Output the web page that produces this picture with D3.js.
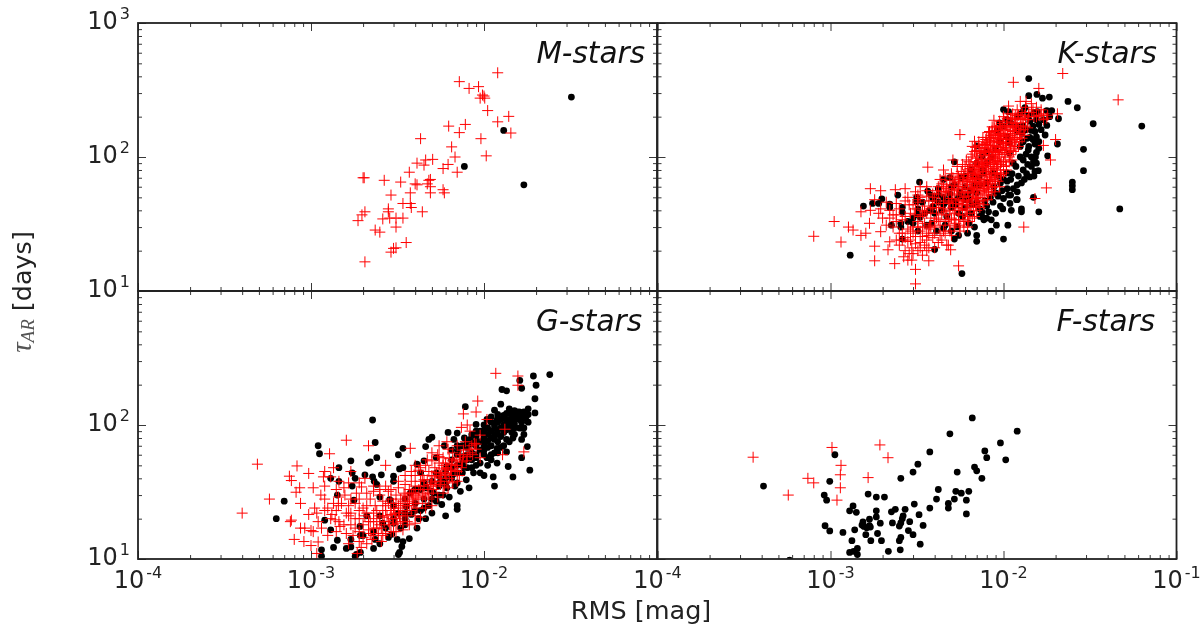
<!DOCTYPE html>
<html>
<head>
<meta charset="utf-8">
<script src="https://cdn.jsdelivr.net/npm/d3@7"></script>
<style>
  html, body { margin: 0; padding: 0; background: #fff; }
  svg { display: block; filter: blur(0.45px); }
</style>
</head>
<body>
<div id="chart"></div>
<script>
// every pair is [RMS in mmag, tau_AR in days]
const mBlack = [[7.7,85],[13,158],[17,62],[32,280]];
const mRed = [[12,425],[7.2,365],[8.2,325],[9.3,335],[9.8,290],[9.5,275],[10.1,275],[10,285],[10.5,222],[13.9,201],[12,183],[14.3,151],[7.8,175],[6.25,170],[7.2,152],[4.3,137],[9.6,137],[6.5,119],[6.8,100],[10.3,102],[4.1,90],[4.6,95],[5.05,96],[4.5,87],[6.2,88],[5.8,82],[7,77],[3.7,77],[2,70],[2.03,70],[2.65,67],[3.3,65],[4,63],[4.1,62],[4.8,67],[4.9,68],[4.7,63],[4.9,60],[4.9,54],[5.8,57],[5.9,54],[3.75,54],[2.9,52],[3.4,45],[3.75,45],[3.8,42],[4.4,39],[2.8,41],[2.8,39],[2.05,39],[1.97,37],[1.87,33.5],[2.6,34.5],[2.85,35],[3.1,35],[3.4,35],[3.1,30],[2.35,28.5],[2.5,27.5],[3.55,23],[3.1,21],[3,20.8],[2.9,19.5],[2.05,16.5]];

const kBlack = [[14,385],[23.6,260],[26.7,233],[33,177],[63,170],[29,114],[29,79],[25,65],[25,61],[25,57],[47,41],[20.5,125],[18,102],[15.6,293],[16.8,275],[18.4,280],[14,287],[10,226],[17.8,222],[19,222],[20.8,193],[15.7,218],[9.5,180],[13.3,233],[17.4,146],[17.8,172],[15.5,190],[14.2,185],[15.2,155],[15.5,141],[13.9,113],[16,116],[15.5,108],[14.9,92],[15.5,90],[15.9,79],[15.2,78],[14.2,71],[13.6,75],[12.7,64],[12,62],[11.4,58],[10.7,52],[10,49],[9.3,51],[8.7,46],[8,43],[7.3,41],[11.9,48],[14.9,50],[10.9,45],[11.1,40],[12.7,41],[12.7,39],[16,39],[9.9,41],[9,38],[8.5,34],[7.7,34],[7.3,36],[9.1,31],[10.6,31],[8.5,28],[10,24.4],[7,26],[7,23.5],[5.2,24.4],[4,20.4],[5.75,13.5],[1.3,18.5],[1.55,43],[1.75,45],[1.9,45],[1.98,48.6],[2.2,44.5],[2.2,42],[2.45,52],[2.6,38.7],[3.27,65],[3.65,55.6],[3.15,50],[3.15,46.5],[2.25,31],[2.55,32],[2.55,30],[3,35],[3,32],[3.3,35.5],[2.6,24.4],[3.85,32],[4.5,68],[4.9,70],[5.2,92],[4.2,58],[3.9,49],[3.9,42.5],[4.4,40],[3.75,40],[4.5,50],[4.9,48],[5.3,44],[4.9,53],[5.6,55],[4.5,29.4],[5.4,30.2],[6.3,32],[7,54],[7.3,62],[7,121],[9.2,159],[10.5,142],[10.8,127],[12,155],[12.5,120],[10.8,107],[11.4,90],[10.5,76],[9.6,64],[8.7,76],[8,64],[7.7,76],[6.7,73],[6,60],[5.7,70],[5.2,62],[13,95],[13.7,138],[13,170],[14.5,158],[10.7,218],[12,200],[14.8,135],[6.5,38],[7.5,39],[6,42],[5.8,36],[9.6,43],[8.2,39],
  [12,170],[12.8,150],[13.5,160],[14.2,140],[14.8,170],[15.2,125],[14,120],[13.5,105],[13,130],[12.5,100],[11.8,85],[13,80],[14.5,100],[13.8,88],[12.2,72],[11.2,75],[10.5,66],[9.8,56],[9,54],[8.4,50],[7.8,47],[7,46],[6.6,44],[6.3,48],[11,68],[12,55],[13.2,68],[14.5,85],[15.3,100],[15,72],[16,130],[16.5,160],[16,175],[14,205],[15,215],[12.5,210],[11,180],[10,170],[10.5,190],[13,220],[17,190],[18.5,200],
  [4.5,44],[5,42],[5.3,47],[5.8,50],[6.2,52],[4.2,46],[4,38],[4.7,36],[5.5,38],[3.5,38],[3.2,41],
  [4.2,52],[4.6,46],[5,60],[5.5,50],[6,48],[6.4,56],[6.8,62],[7.2,70],[7.6,80],[8,90],[8.5,100],[9,115],[9.5,130],[8,110],[7.5,100],[7,90],[6.5,80],[6,72],[3.4,46],[3.8,52],[3.2,28],[3.6,31],[4.1,28],[4.6,31],[5,28],[2.8,33],[3.2,37],[2.6,42],[8.8,60],[9.4,72],[10,68],[10.5,58],[11,52],[12,48],[7.5,36],[6.8,30],[6.2,27],[5.5,26],[8,35]];
const kRed = [[22,420],[11.4,361],[16,325],[46,267],[5.6,147],[3.65,84],[1.7,58],[1.95,56],[2.37,57],[2.7,58],[3.1,55],[1.05,33],[0.8,25.6],[1.27,30],[1.35,28.5],[1.15,23.2],[1.5,26],[1.6,27],[1.68,32],[1.95,27.7],[1.8,21.6],[1.8,16.8],[2.35,16],[3.1,14.5],[3.1,11.3],[3.7,16.8],[5.5,15.4],[4.95,20.3],[2.15,20.3],[2.2,23.3],[2.8,17],[2.65,18],[2.85,19],[2.95,17],[2.95,21],[3.3,21],[3.7,21],[4.7,22],[2.6,27],[2.8,23.4],[3.1,25.5],[3.4,30],[3.75,31],[2.2,35],[2.3,37],[1.5,39],[1.7,40],[1.95,41],[2.85,44],[3.05,37],[3.4,37],[17.7,58.8],[15.2,49],[13.1,30],[18.7,95],[20,135],[17,122],[20.5,210],[17.8,195],[17,210],[12.5,260],[10.7,240],[8.8,188],[8.3,155],[6.8,131],[6.6,120],[4.5,80],[5.1,95],[6,85],
  [3,30],[3.2,33],[2.9,38],[3.4,40],[3.3,28],[3.6,27],[3.8,35],[3.5,43],[3.7,47],[3.2,52],[2.7,47],
  [4,30],[4.2,34],[4.1,38],[3.9,42],[4.3,45],[4,50],[4.4,55],[4.2,60],[4.5,28],[4.6,33],[4.7,37],[4.5,41],[4.8,46],[4.6,52],[4.4,63],[4.7,58],[4.9,67],[4.3,26],[4.9,31],
  [5,35],[5.2,38],[5.1,42],[5.3,45],[5,49],[5.2,53],[5.4,57],[5.1,61],[5.3,66],[5.5,72],[5,75],[5.6,40],[5.5,34],[5.8,37],[5.7,44],[5.6,48],[5.9,50],[5.7,55],[5.8,60],[5.6,64],[5.9,70],[5.7,78],[5.4,85],[5.2,30],[5.9,30],
  [6,41],[6.2,44],[6.1,47],[6.3,51],[6,54],[6.2,58],[6.4,62],[6.1,66],[6.3,70],[6.5,75],[6.2,80],[6.4,88],[6.1,95],[6.6,48],[6.7,54],[6.5,57],[6.8,60],[6.6,65],[6.9,69],[6.7,73],[6.8,80],[6.6,85],[6.9,92],[6.5,100],[6.8,110],[6.4,38],[6.7,42],
  [7,50],[7.2,53],[7.1,58],[7.3,62],[7,65],[7.2,68],[7.4,72],[7.1,77],[7.3,81],[7.5,86],[7.2,90],[7.4,96],[7.1,102],[7.3,110],[7.5,118],[7.6,56],[7.7,60],[7.5,64],[7.8,68],[7.6,74],[7.9,78],[7.7,83],[7.8,90],[7.6,95],[7.9,102],[7.7,108],[7.8,116],[7.6,125],[7.9,135],[7.2,45],[7.6,47],
  [8,55],[8.2,60],[8.1,66],[8.3,70],[8,74],[8.2,80],[8.4,85],[8.1,91],[8.3,97],[8.5,103],[8.2,110],[8.4,117],[8.1,125],[8.3,132],[8.5,145],[8.6,63],[8.7,68],[8.5,76],[8.8,82],[8.6,88],[8.9,94],[8.7,100],[8.8,108],[8.6,114],[8.9,122],[8.7,130],[8.8,140],[8.6,155],[8.9,165],
  [9,70],[9.2,76],[9.1,84],[9.3,90],[9,97],[9.2,104],[9.4,112],[9.1,120],[9.3,128],[9.5,136],[9.2,146],[9.4,158],[9.1,170],[9.6,80],[9.7,92],[9.5,100],[9.8,108],[9.6,118],[9.9,126],[9.7,135],[9.8,150],[9.6,165],[9.9,178],[9.5,60],
  [10,85],[10.3,95],[10.1,105],[10.4,115],[10,125],[10.3,135],[10.5,148],[10.2,160],[10.4,172],[10.1,185],[10.5,195],[10.8,100],[11,112],[10.9,122],[11.2,132],[11,145],[11.3,155],[10.9,168],[11.2,180],[11,195],[11.3,210],[11.6,120],[11.8,135],[11.6,150],[11.9,165],[11.7,178],[12,190],[11.7,205],[12,225],[12.4,150],[12.6,170],[12.5,195],[12.8,215],[13,180],[13.2,205],[13.4,235],[13.8,190],[14,215],[14.5,250],[15,200],[15.5,235],[16,205],[16.5,225],[17,190],[18,205],[14.8,225],[13.5,260],
  [2.3,30],[2.5,27],[2.7,25],[2.9,24],[3.1,22.5],[3.3,23],[3.6,24],[3.9,25],[4.2,23],[2.6,34],[2.9,28],[2.4,37],[2.2,40],[1.9,38],[3.4,25.5],[3.7,26],[4,27],[3.5,22],
  [3.3,36],[3.6,38],[4.1,35],[4.4,37],[4.8,34],[5.2,34],[5.5,37],[6,34],[6.3,33],[6.8,36],
  [3.1,41],[3.5,39],[3.8,41],[4.2,42],[4.6,39],[4.9,40],[5.3,42],[5.8,41],[6.1,40],[6.5,44],[6.9,43],[7.1,47],
  [3.2,46],[3.9,47],[4.1,45],[4.5,47],[4.9,45],[5.1,47],[5.5,45],[5.8,47],[6.3,46],[6.6,51],[6.9,49],[7.4,50],[7.8,52],[8.2,54],
  [3.6,56],[4.2,53],[4.6,55],[5,56],[5.4,52],[5.9,54],[6.2,55],[6.6,59],[7,56],[7.4,58],[7.8,58],[8.2,57],[8.6,59],[9,60],
  [4.7,62],[5.2,64],[5.5,60],[6,62],[6.4,66],[6.8,64],[7.3,66],[7.7,64],[8.1,62],[8.4,66],[8.9,66],[9.3,66],[9.7,72],
  [5.4,75],[5.9,74],[6.3,76],[6.9,75],[7.2,74],[7.6,78],[8,78],[8.5,72],[8.9,75],[9.2,80],[9.6,74],[10,76],[10.4,80],
  [5.8,88],[6.3,92],[6.8,86],[7.2,85],[7.6,88],[8,88],[8.4,92],[8.8,90],[9.2,93],[9.6,88],[10,92],[10.4,86],[10.8,92],[11.2,95],
  [6.6,105],[7,112],[7.4,106],[7.9,112],[8.2,104],[8.6,108],[9,110],[9.4,105],[9.8,114],[10.2,112],[10.6,108],[11,104],[11.4,110],[11.8,115],[12.2,120],
  [7.2,130],[7.6,140],[8,128],[8.4,138],[8.8,132],[9.2,138],[9.6,130],[10,142],[10.4,128],[10.8,138],[11.2,128],[11.6,135],[12,140],[12.4,130],[12.8,138],[13.2,145],
  [8.2,152],[8.6,168],[9,158],[9.4,150],[9.8,168],[10.2,150],[10.6,165],[11,158],[11.4,168],[11.8,172],[12.2,160],[12.6,150],[13,160],[13.4,170],[13.8,165],
  [9.5,185],[10,200],[10.6,210],[11.2,190],[11.6,195],[12.2,205],[12.8,195],[13.4,190],[14,200],[14.5,215],[15.5,200],[16.5,205],
  [3.2,20],[3.6,20],[4.4,24],[5,26],[5.6,28],[6.2,30],[4,21],[4.8,22],[2.5,22],[2.7,20],[3,19],[3.4,18.5],
  [2.4,24],[2.6,24],[2.8,29],[3,27],[3.2,30],[3.5,32],[3.7,29],[4,33],[4.3,31],[4.6,27],[4.9,28],[5.3,32],[5.6,31],[5.9,33],[6.2,36],[6.6,35],[7,40],[7.3,42],[7.7,44],[8.1,48],[8.5,52],[8.9,55],[3.3,50],[3.6,51],[3.9,53],[4.1,56],[4.5,60],[4.8,54],[5.2,58],[5.5,68],[5.1,70],[4.6,72],[4.3,68],[5.8,66],[6.2,68],[6.6,70],[7,84],[6.4,82],[7.5,92],[7,98],[6.9,118],[7.2,122],[7.8,124],[8.4,122],[9,148],[8,140],[9.6,145],[10.3,118],[11,125],[11.5,140],[3.8,30],[2.4,33],[2.1,31],[2,35],[2.7,36],[2.5,41],[3,44],[3.2,48],[2.8,50],[2.4,45],[2.1,46],[1.8,48],[3.6,60],[3.3,60]];

const gBlack = [[24,238],[19.3,232],[20,198],[16.1,215],[16.5,188],[13.5,180],[12.7,184],[19.7,157],[7.8,137],[12.5,143],[11.5,129],[14,132],[15,128],[19.7,123],[18,132],[16.5,118],[14.8,115],[13.5,106],[11.9,108],[10.4,110],[9,101],[12.9,95],[11.5,95],[10,91],[15,95],[16.5,95],[14.7,80],[16.5,78],[17.8,69],[16.5,57],[13.5,63],[11.9,67],[10,69],[10.4,57],[9,57],[11.9,52],[13.8,49],[18.4,46],[14.7,41],[11.3,41],[11.5,35],[10,42],[8.7,44],[7.9,39],[8.2,34],[7.3,32],[7,37],[7.6,49],[7.1,64],[7.7,80],[8.3,78],[7,87],[6.2,88],[5,81],[4.8,78],[6.7,78],[5.9,70],[4.6,69],[3.4,67],[3.2,60],[4.5,54],[5.3,57],[6.1,49],[4.1,51],[3.4,48],[3.25,47],[4.3,44],[5.3,44],[5.6,38],[6.6,42.5],[6.3,29],[5.3,27],[5.7,25.5],[7,25],[7,23.5],[6,21],[5,22],[4.6,20],[5.1,31],[2.27,109],[2.35,74],[1.1,70],[1.12,61],[1.7,54],[2.2,53],[2.15,52],[2.4,57],[1.45,48],[1.73,44],[1.8,40],[1.3,40],[1.45,38],[1.73,35],[2.05,42.5],[2.27,41],[2.32,38],[2.55,42.5],[3,41.5],[2.4,36],[3,38],[1.42,30],[1.77,27.5],[0.7,27],[0.63,20],[1.2,19.5],[1.3,16.5],[1.42,13.8],[1.35,12.2],[1.15,11.7],[1.15,10.5],[1.6,12],[1.7,14],[1.7,12.3],[1.93,15],[1.83,10.8],[1.8,10.5],[1.93,11.2],[2.35,14],[2.5,13],[2.3,12],[2.93,15.3],[3.15,14],[3.4,13.5],[3.7,14.2],[3.35,12.4],[3.25,11.2],[3.2,10.8],[4.1,17],[3.5,18],[3.8,21.5],[4.3,23],[3.55,24.6],[2.5,29],[2.85,27.7],[3,18.5],[2.6,18.5],[2.1,21],[1.92,17.5],[3.75,31],[4.65,34],[4.3,33],[6.1,34],
  [9,70],[9.5,75],[10,80],[10.5,85],[11,90],[11.5,100],[12,105],[12.5,110],[13,118],[13.5,122],[14,125],[14.5,120],[15,110],[15.5,118],[16,125],[16.5,105],[17,112],[12,75],[12.5,82],[13,88],[13.5,92],[14,98],[14.5,88],[15,102],[11,70],[11.5,78],[12,92],[13,70],[13.5,78],[10,60],[10.5,68],[11,60],[9,60],[9.5,52],[8.5,62],[8,55],[8,68],[7.5,58],[7,50],[7,60],[6.5,48],[6.5,55],[6,45],[6,40],[5.5,35],[5.5,42],[5,32],[5,38],[4.5,28],[4.5,37],[4,26],[4,33],[3.5,22],[3.5,28],[3,20],[3,25],[2.7,17],[2.5,21],[2.3,16],[2.8,14.5],[2,15],[8.5,48],[9.5,44],[10.5,50],[7.5,44],[6.8,35],[5.8,30],[4.8,25],[4.2,20],[3.3,17],[9,82],[8.5,72],[10,100],[11,115],[12,120],
  [7.5,52],[8,60],[8.5,55],[9,75],[9.5,65],[10,72],[10.5,76],[11,80],[11.5,85],[12,85],[12.5,95],[13,100],[13.5,110],[14,110],[14.5,105],[15,120],[15.5,125],[16,110],[16.5,120],[17,125],[17.5,115],[11,105],[12,112],[10.5,95],[9.5,90],[9,90],[10,85],[8.5,85],[8,75],[7.5,70],[7,70],[6.5,65],[10,65],[11,55],[12,62],[12.5,68],[11.5,62],[9,50],[8,48],[7,44],[6.5,40],[6,36],[5.5,30],[5,28],[4.5,24],[4,23],[3.5,20],[3.2,22],[14,75],[15,85],[16,95],[17,95],[17,85],[18,120],[18,105]];
const gRed = [[11.7,243],[15.7,232],[15.7,198],[9.2,151],[7.6,121],[9,125],[10.4,110],[13.2,93],[8,100],[7.4,96],[8.3,90],[9.5,84],[8.8,73],[12.8,60],[17,63],[6.1,75],[5.5,70],[3.75,67],[2.15,70],[1.6,77],[1.28,61],[2.7,50],[0.49,51],[0.83,49.5],[0.97,43.5],[0.75,41.5],[0.77,38.5],[0.86,34],[0.82,31.5],[1.03,34],[1.2,35],[1.18,41],[1.3,41],[1.35,48],[1.45,38],[1.7,45],[1.14,30],[0.87,26],[0.575,28],[0.4,22],[0.76,19],[0.77,19.5],[0.87,17],[0.92,17],[1,16.3],[1.03,16],[0.8,14],[0.91,13.5],[1,12.6],[1.1,13.4],[1.08,11],[1.05,24],[0.97,21.5],[1.08,22],[1.32,21.5],[1.38,19.6],[1.47,17.5],[1.57,30],[1.44,29],[1.44,25],[1.65,25],[1.96,34.5],[1.83,31],[2.3,32],[1.65,13],[1.9,13.5],[1.95,12.2],[1.85,11],
  [1.2,28],[1.25,24],[1.3,20],[1.4,23],[1.45,19],[1.5,26],[1.55,18],[1.6,15.5],[1.65,21],[1.7,28],[1.75,15],[1.8,26],
  [1.6,22],[1.7,18],[1.8,20],[1.9,16],[1.9,23],[2,18],[2,14.5],[2.05,21],[2.1,25],[2.15,16.5],[2.2,19],[2.2,28],[2.25,14],[2.3,22],[2.3,17],[2.35,25],[2.4,19],[2.45,15.5],[2.5,21],[2.5,30],[2.55,17],[2.6,23],[2.6,27],[2.65,19],[2.7,15.5],[2.7,25],[2.75,21],[2.8,32],[2.85,18],[2.9,23],[2.9,28],[2.95,20],[3,16],[3,26],[3.05,22],[3.1,30],[3.15,18.5],[3.2,25],[3.2,34],[3.25,21],[3.3,28],[3.4,23],[3.4,19],[3.45,31],[3.5,26],[3.5,36],[3.6,22],[3.6,29],[3.7,33],[3.7,25],[3.8,38],[3.85,28],[3.9,31],[4,26],[4,35],[4,42],[4.1,29],[4.2,33],[4.2,46],[4.3,38],[4.4,31],[4.4,42],[4.5,35],[4.6,50],[4.6,29],[4.7,39],[4.8,33],[4.8,45],[4.9,36],[5,42],[5,54],[5.1,33],[5.2,38],[5.2,48],[5.3,44],[5.4,60],[5.5,38],[5.5,52],[5.6,42],[5.7,47],[5.8,57],[5.9,35],[5.9,44],[6,52],[6.1,38],[6.2,66],[6.2,47],[6.3,56],[6.5,42],[6.5,51],[6.6,62],[6.8,46],[6.9,55],[7,70],[7,50],[7.2,42],[7.3,60],[7.5,53],[7.6,65],[7.8,75],[8,58],[8.3,62],[8.5,70],[9,66],[9.5,57],
  [2.3,20],[2.4,23],[2.5,18],[2.6,20.5],[2.7,23],[2.8,19],[2.8,26],[2.9,21.5],[3,24],[3,18],[3.1,20],[3.1,26],[3.2,22],[3.3,19],[3.3,24],[3.4,27],[3.5,21],[3.5,30],[3.6,25],[3.6,19],[3.7,27],[3.8,23],[3.8,31],[3.9,26],[4,21],[4,30],[4.1,24],[4.2,28],[4.3,35],[4.4,26],[4.5,30],[4.5,39],[4.7,33],[4.8,28],[5,31],[5,37],[5.2,41],[5.3,35],[5.5,44],[5.6,36],[5.7,40],[5.8,50],[6,43],[6.1,48],[6.3,40],[6.4,46],[6.6,54],[6.8,50],[7,45],[7.2,57],[7.4,48],[7.6,60],[7.9,54],[8.2,66],[8.6,60],[9,72],[2.1,22],[2.15,19],[2.3,15],[2.6,15],[2,24],[1.9,20],[1.8,17],[1.7,22],
  [1.9,28],[2.1,31],[2.3,35],[2.5,33],[2.7,35],[2.9,33],[3.2,38],[3.5,42],[3.8,45],[4,50],[4.3,48],[4.7,55],[5,62],[5.5,58],[3.1,16],[3.4,16.5],[3.7,18],[4,18.5],[4.3,20.5],[4.6,24],[5,25],[5.4,29],[5.8,31],[6.2,34],[6.6,37],[7,38],[2.4,17],[2.2,15.5],[2.9,16],[2.55,13.5],[2.1,13],[1.4,16],[1.25,15],[1.15,17],[1.1,19],[1.2,23],[1.35,26],[1.55,34],[1.65,37],[1.9,37],[2.05,40],[1.2,45],[1.4,33]];

const fBlack = [[6.6,113],[4.9,86],[12,90],[9.6,73.5],[7.8,64],[8,57],[10.3,55],[3.75,63],[3.2,51],[3,44.5],[2.55,40],[1.06,60],[0.99,38],[0.41,35],[0.92,30],[0.95,27.5],[1.65,30.5],[1.84,29],[2.05,29],[5.4,44.5],[6.8,48.5],[7,45.5],[7.5,40],[4.2,33],[5.3,32],[5.7,31],[6.3,32],[4.1,28],[5.2,28],[6.1,27.5],[4.8,26],[4.8,24],[3.75,24],[6.1,21.7],[3.05,25.7],[2.7,23.5],[2.37,23.5],[2.25,22.5],[3.25,21.4],[2.63,21],[2.6,20],[2.87,19],[2.55,18.6],[2.28,18.6],[3.43,17.8],[2.5,17.6],[2.82,16.3],[3,15.2],[2.55,14.5],[2.5,13.7],[3.3,12.9],[2.53,11.7],[2.16,11.4],[1.97,13.7],[1.87,15.5],[1.71,13.7],[1.6,15.2],[1.33,13.7],[1.18,15.8],[0.99,16.2],[0.93,17.7],[1.38,16.5],[1.29,22.9],[1.35,24.9],[1.41,22.3],[1.84,22.9],[1.84,20.6],[1.68,19.8],[1.54,18.9],[1.52,17.9],[1.94,18.5],[1.7,17.3],[1.62,17.1],[1.29,11.2],[1.36,11.4],[1.43,12],[1.43,10.8],[1.68,17.7],[1.56,17.5],[0.58,9.8]];
const fRed = [[0.357,57.5],[0.57,30],[1.02,68],[1.93,71],[2.15,57],[1.15,50],[1.14,42.5],[0.74,40],[0.8,37],[1.65,40.5],[1.14,34],[1.09,27.5]];

const xExponents = [-4, -3, -2, -1];
const yExponents = [1, 2, 3];

const panels = [
  { name: "M-stars", black: mBlack, red: mRed, col: 0, row: 0, nameEnd: 645, nameY: 63 },
  { name: "K-stars", black: kBlack, red: kRed, col: 1, row: 0, nameEnd: 1157, nameY: 63 },
  { name: "G-stars", black: gBlack, red: gRed, col: 0, row: 1, nameEnd: 642, nameY: 331 },
  { name: "F-stars", black: fBlack, red: fRed, col: 1, row: 1, nameEnd: 1155, nameY: 331 }
];

const width = 1202, height = 624;
const colLeft = [138, 657.5], rowTop = [23, 291];
const panelW = 519, panelH = 268;
const font = "'DejaVu Sans', sans-serif";
const ink = "#222";

// minor log ticks 2..9 in every decade of the domain
function minorTicks(lo, hi) {
  const out = [];
  for (let e = lo; e < hi; e++) {
    for (let m = 2; m <= 9; m++) out.push(m * Math.pow(10, e));
  }
  return out;
}

const svg = d3.select("#chart").append("svg")
  .attr("width", width)
  .attr("height", height)
  .attr("font-family", font);

function drawAxis(g, axisFn, scale, lo, hi) {
  const major = d3.range(lo, hi + 1).map(e => Math.pow(10, e));
  g.append("g").call(axisFn(scale).tickValues(minorTicks(lo, hi)).tickSizeInner(-4).tickSizeOuter(0).tickFormat(""))
    .call(a => a.select(".domain").remove());
  g.append("g").call(axisFn(scale).tickValues(major).tickSizeInner(-8).tickSizeOuter(0).tickFormat(""))
    .call(a => a.select(".domain").remove());
  g.selectAll("line").attr("stroke", ink).attr("stroke-width", 0.9);
}

function powerLabel(sel, exp) {
  sel.append("tspan").text("10");
  sel.append("tspan").attr("font-size", 16).attr("dy", -10).attr("dx", 2).text(exp);
}

panels.forEach((p, i) => {
  const left = colLeft[p.col], top = rowTop[p.row];
  const x = d3.scaleLog().domain([1e-4, 1e-1]).range([0, panelW]);
  const y = d3.scaleLog().domain([10, 1000]).range([panelH, 0]);

  const g = svg.append("g").attr("transform", `translate(${left},${top})`);

  g.append("clipPath").attr("id", `clip${i}`)
    .append("rect").attr("width", panelW).attr("height", panelH);

  const marks = g.append("g").attr("clip-path", `url(#clip${i})`);

  marks.selectAll("circle")
    .data(p.black)
    .join("circle")
    .attr("cx", d => x(d[0] / 1000))
    .attr("cy", d => y(d[1]))
    .attr("r", 3.4)
    .attr("fill", "#000");

  marks.selectAll("path")
    .data(p.red)
    .join("path")
    .attr("transform", d => `translate(${x(d[0] / 1000)},${y(d[1])})`)
    .attr("d", "M-5.5,0H5.5M0,-5.5V5.5")
    .attr("stroke", "#f00")
    .attr("stroke-width", 1)
    .attr("fill", "none");

  // ticks on all four sides, pointing in
  drawAxis(g.append("g").attr("transform", `translate(0,${panelH})`), d3.axisBottom, x, -4, -1);
  drawAxis(g.append("g"), d3.axisTop, x, -4, -1);
  drawAxis(g.append("g"), d3.axisLeft, y, 1, 3);
  drawAxis(g.append("g").attr("transform", `translate(${panelW},0)`), d3.axisRight, y, 1, 3);

  g.append("rect")
    .attr("width", panelW)
    .attr("height", panelH)
    .attr("fill", "none")
    .attr("stroke", ink)
    .attr("stroke-width", 1.8);

  if (p.row === 1) {
    xExponents.filter(e => p.col === 1 || e < -1).forEach(e => {
      g.append("text")
        .attr("x", x(Math.pow(10, e)))
        .attr("y", panelH + 29)
        .attr("text-anchor", "middle")
        .attr("font-size", 24)
        .attr("fill", ink)
        .call(powerLabel, e);
    });
  }
  if (p.col === 0) {
    yExponents.filter(e => p.row === 0 || e < 3).forEach(e => {
      g.append("text")
        .attr("x", -8)
        .attr("y", y(Math.pow(10, e)) + 6)
        .attr("text-anchor", "end")
        .attr("font-size", 24)
        .attr("fill", ink)
        .call(powerLabel, e);
    });
  }

  svg.append("text")
    .attr("x", p.nameEnd)
    .attr("y", p.nameY)
    .attr("text-anchor", "end")
    .attr("font-size", 29.5)
    .attr("font-style", "italic")
    .attr("fill", "#111")
    .text(p.name);
});

svg.append("text")
  .attr("x", 641)
  .attr("y", 619)
  .attr("text-anchor", "middle")
  .attr("font-size", 25.5)
  .attr("fill", ink)
  .text("RMS [mag]");

const yLabel = svg.append("text")
  .attr("transform", "translate(31,292) rotate(-90)")
  .attr("text-anchor", "middle")
  .attr("font-size", 25.5)
  .attr("fill", ink);
yLabel.append("tspan").attr("font-family", "'Liberation Serif', serif").attr("font-style", "italic").attr("font-size", 29).attr("fill", "#555").text("τ");
yLabel.append("tspan").attr("font-family", "'Liberation Serif', serif").attr("font-style", "italic").attr("font-size", 19).attr("fill", "#555").attr("dy", 3).text("AR");
yLabel.append("tspan").attr("dy", -3).attr("dx", 8).text("[days]");
</script>
</body>
</html>
